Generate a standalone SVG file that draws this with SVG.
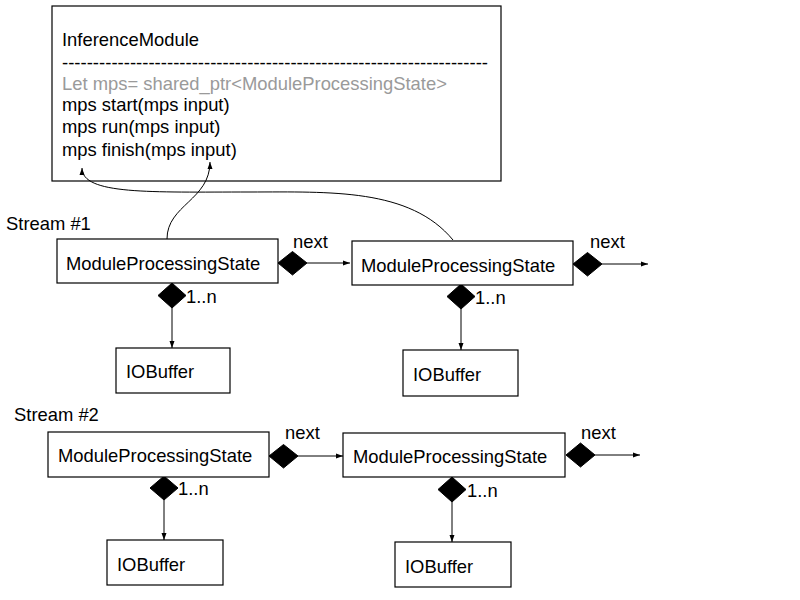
<svg xmlns="http://www.w3.org/2000/svg" width="800" height="600" viewBox="0 0 800 600">
<defs>
<marker id="ah" markerWidth="8" markerHeight="6" refX="7" refY="3" orient="auto" markerUnits="userSpaceOnUse">
<path d="M0,0.5 L7,3 L0,5.5 Z" fill="#000"/>
</marker>
</defs>
<style>
text{font-family:"Liberation Sans",Arial,sans-serif;font-size:18.4px;fill:#000}
.box{fill:#fff;stroke:#000;stroke-width:1.2}
.gray{fill:#9a9a9a}
.ln{fill:none;stroke:#000;stroke-width:1}
.dia{fill:#000;stroke:#000;stroke-width:1}
</style>
<rect width="800" height="600" fill="#fff"/>

<g id="inferenceModule">
<rect class="box" x="52" y="6" width="449" height="175"/>
<text x="62" y="46">InferenceModule</text>
<text x="62" y="69" textLength="426" lengthAdjust="spacingAndGlyphs">---------------------------------------------------------------------</text>
<text class="gray" x="62" y="90">Let mps= shared_ptr&lt;ModuleProcessingState&gt;</text>
<text x="62" y="111">mps start(mps input)</text>
<text x="62" y="133">mps run(mps input)</text>
<text x="62" y="156">mps finish(mps input)</text>
</g>

<g id="labels">
<text x="6" y="230">Stream #1</text>
<text x="14" y="421">Stream #2</text>
<text x="293" y="248">next</text>
<text x="590" y="248">next</text>
<text x="285" y="439">next</text>
<text x="581" y="439">next</text>
<text x="186" y="303">1..n</text>
<text x="475" y="304">1..n</text>
<text x="178" y="495">1..n</text>
<text x="467" y="497">1..n</text>
</g>

<g id="connectors">
<path class="ln" d="M167,239 C167,205 210,200 210,162" marker-end="url(#ah)"/>
<path class="ln" d="M453,240 C410,188 330,192 250,192 C150,192 82,195 82,168" marker-end="url(#ah)"/>
<path class="ln" d="M307,263 L350,263" marker-end="url(#ah)"/>
<path class="ln" d="M602,264 L648,264" marker-end="url(#ah)"/>
<path class="ln" d="M298,456 L343,456" marker-end="url(#ah)"/>
<path class="ln" d="M595,455 L640,455" marker-end="url(#ah)"/>
<path class="ln" d="M172,308 L172,348" marker-end="url(#ah)"/>
<path class="ln" d="M461,309 L461,350" marker-end="url(#ah)"/>
<path class="ln" d="M164,500 L164,540" marker-end="url(#ah)"/>
<path class="ln" d="M452,502 L452,542" marker-end="url(#ah)"/>
<polygon class="dia" points="278,263 292.5,251.5 307,263 292.5,275"/>
<polygon class="dia" points="573,264 587.5,252.5 602,264 587.5,276"/>
<polygon class="dia" points="269,456 283.5,444.5 298,456 283.5,468"/>
<polygon class="dia" points="566,455 580.5,443 595,455 580.5,467"/>
<polygon class="dia" points="158,295.5 172,283 186,295.5 172,308"/>
<polygon class="dia" points="447,296.5 461,284 475,296.5 461,309"/>
<polygon class="dia" points="150,488 164,476 178,488 164,500"/>
<polygon class="dia" points="438,489.5 452,477 466,489.5 452,502"/>
</g>

<g id="mps1">
<rect class="box" x="57" y="239" width="221" height="44"/>
<text x="66" y="270">ModuleProcessingState</text>
</g>
<g id="mps2">
<rect class="box" x="352" y="241" width="221" height="44"/>
<text x="361" y="272">ModuleProcessingState</text>
</g>
<g id="iobuffer1">
<rect class="box" x="116" y="348" width="114" height="45"/>
<text x="126" y="378">IOBuffer</text>
</g>
<g id="iobuffer2">
<rect class="box" x="403" y="350" width="115" height="46"/>
<text x="413" y="381">IOBuffer</text>
</g>
<g id="mps3">
<rect class="box" x="48" y="432" width="221" height="45"/>
<text x="58" y="462">ModuleProcessingState</text>
</g>
<g id="mps4">
<rect class="box" x="343" y="433" width="222" height="44"/>
<text x="353" y="463">ModuleProcessingState</text>
</g>
<g id="iobuffer3">
<rect class="box" x="107" y="540" width="116" height="45"/>
<text x="117" y="571">IOBuffer</text>
</g>
<g id="iobuffer4">
<rect class="box" x="395" y="542" width="116" height="45"/>
<text x="405" y="573">IOBuffer</text>
</g>
</svg>
